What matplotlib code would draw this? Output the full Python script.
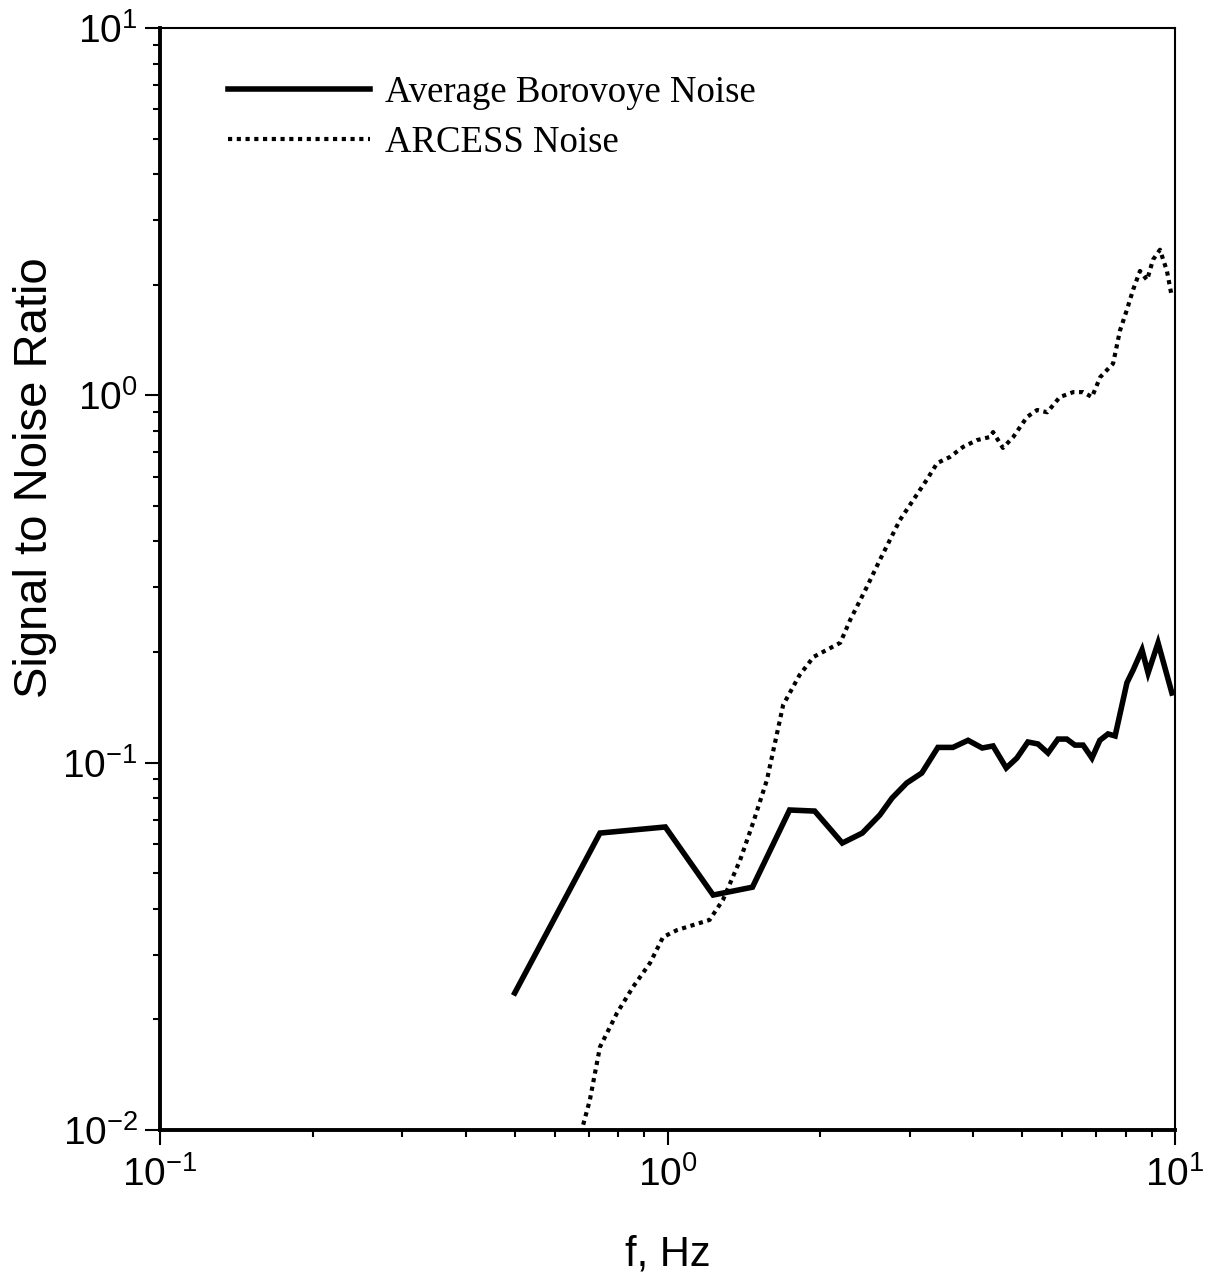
import matplotlib
matplotlib.use("Agg")
import matplotlib.pyplot as plt
from matplotlib.ticker import LogLocator, NullFormatter

plt.rcParams['font.family'] = ['Liberation Sans', 'DejaVu Sans']
plt.rcParams['mathtext.fontset'] = 'custom'
plt.rcParams['mathtext.rm'] = 'Liberation Sans'
plt.rcParams['axes.unicode_minus'] = False

# Average Borovoye noise (solid)
boro_f = [0.50, 0.736, 0.99, 1.23, 1.47, 1.74, 1.95, 2.21, 2.42, 2.62, 2.77, 2.96,
          3.17, 3.41, 3.65, 3.91, 4.17, 4.38, 4.65, 4.88, 5.13, 5.37, 5.62, 5.88,
          6.12, 6.35, 6.59, 6.86, 7.11, 7.38, 7.62, 8.04, 8.27, 8.61, 8.85, 9.26, 9.86]
boro_snr = [0.0236, 0.0643, 0.0668, 0.0436, 0.0458, 0.0743, 0.0738, 0.0604, 0.0643,
            0.0720, 0.0801, 0.0880, 0.0937, 0.110, 0.110, 0.115, 0.1096, 0.111, 0.0967,
            0.1029, 0.1138, 0.1124, 0.1062, 0.1159, 0.1159, 0.1116, 0.1116, 0.1029,
            0.115, 0.1197, 0.1182, 0.165, 0.1787, 0.2027, 0.1754, 0.2118, 0.1547]

# ARCESS noise (dotted)
arc_f = [0.675, 0.703, 0.736, 0.795, 0.855, 0.924, 0.98, 1.044, 1.21, 1.286, 1.39,
         1.474, 1.57, 1.69, 1.82, 1.94, 2.19, 2.29, 2.47, 2.62, 2.87, 3.05, 3.24, 3.40,
         3.60, 3.82, 4.07, 4.32, 4.38, 4.58, 4.80, 5.11, 5.35, 5.60, 5.93, 6.30, 6.59,
         6.86, 7.12, 7.55, 7.79, 8.04, 8.27, 8.53, 8.81, 9.05, 9.34, 9.64, 9.86]
arc_snr = [0.0098, 0.01206, 0.01682, 0.0208, 0.0245, 0.0285, 0.0335, 0.0350, 0.0373,
           0.0423, 0.0543, 0.0685, 0.0897, 0.1436, 0.173, 0.194, 0.212, 0.2445, 0.3006,
           0.356, 0.4575, 0.519, 0.588, 0.654, 0.679, 0.723, 0.755, 0.770, 0.794, 0.719,
           0.770, 0.873, 0.912, 0.899, 0.989, 1.02, 1.02, 0.989, 1.12, 1.22, 1.50, 1.71,
           1.94, 2.18, 2.06, 2.34, 2.49, 2.18, 1.85]

fig = plt.figure(figsize=(12.17, 12.83), dpi=100)
ax = fig.add_axes([0.1315, 0.1193, 0.834, 0.8589])

ax.plot(boro_f, boro_snr, color='black', lw=4.0, solid_joinstyle='miter',
        label='Average Borovoye Noise')
ax.plot(arc_f, arc_snr, color='black', lw=3.0, linestyle=(0, (1.0, 1.1)),
        label='ARCESS Noise')

ax.set_xscale('log')
ax.set_yscale('log')
ax.set_xlim(0.1, 10)
ax.set_ylim(0.01, 10)

ax.xaxis.set_major_locator(LogLocator(base=10))
ax.yaxis.set_major_locator(LogLocator(base=10))
ax.xaxis.set_minor_locator(LogLocator(base=10, subs=range(2, 10)))
ax.yaxis.set_minor_locator(LogLocator(base=10, subs=range(2, 10)))
ax.xaxis.set_minor_formatter(NullFormatter())
ax.yaxis.set_minor_formatter(NullFormatter())

ax.tick_params(which='both', direction='out', top=False, right=False, width=1.5,
               labelsize=28, colors='black')
ax.tick_params(which='major', length=11)
ax.tick_params(which='minor', length=5)
ax.tick_params(axis='x', which='major', pad=8)
ax.tick_params(axis='y', which='major', pad=5)

for s in ['left', 'bottom']:
    ax.spines[s].set_linewidth(2.8)
for s in ['top', 'right']:
    ax.spines[s].set_linewidth(1.5)

ax.set_xlabel('f, Hz', fontsize=30)
ax.xaxis.set_label_coords(0.5, -0.095)
ax.set_ylabel('Signal to Noise Ratio', fontsize=34)
ax.yaxis.set_label_coords(-0.145, 0.592)
ax.yaxis.label.set_va('top')

ax.legend(loc='upper left', bbox_to_anchor=(0.067, 0.957), frameon=False,
          prop={'family': 'Liberation Serif', 'size': 26.5}, handlelength=3.85,
          handletextpad=0.42, labelspacing=0.42, borderpad=0, borderaxespad=0)

fig.savefig('out.png', dpi=100)
